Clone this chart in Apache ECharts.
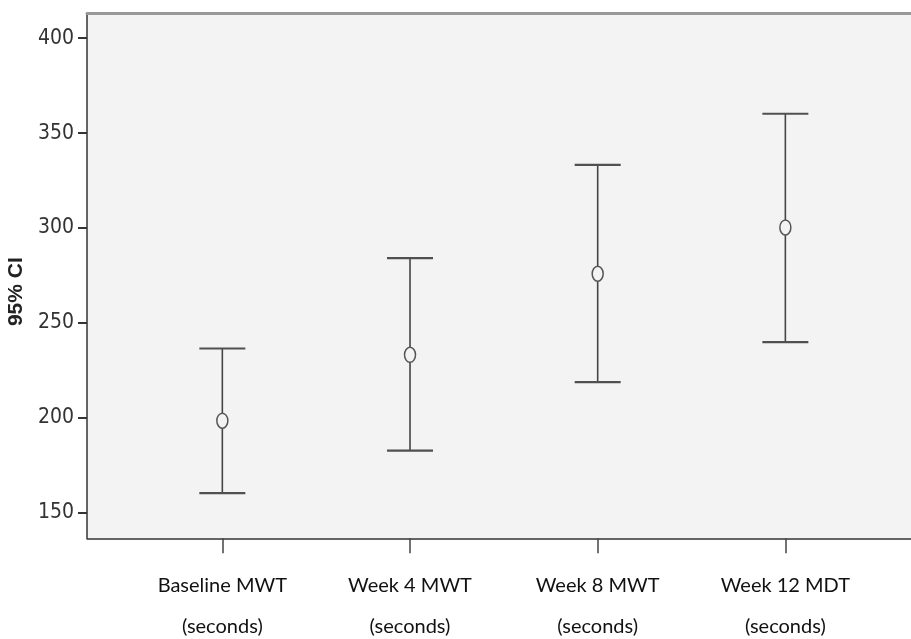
<!DOCTYPE html>
<html>
<head>
<meta charset="utf-8">
<script src="https://cdn.jsdelivr.net/npm/echarts@6/dist/echarts.min.js"></script>
<style>
  html, body { margin: 0; padding: 0; background: #ffffff; }
  #chart { width: 911px; height: 639px; }
</style>
</head>
<body>
<div id="chart"></div>
<script>
// Measurements and their 95% confidence intervals
const categories = [
  'Baseline MWT\n(seconds)',
  'Week 4 MWT\n(seconds)',
  'Week 8 MWT\n(seconds)',
  'Week 12 MDT\n(seconds)'
];
const means = [198.5, 233.2, 275.9, 300.3];
const lowerCI = [160.3, 182.7, 218.8, 239.9];
const upperCI = [236.5, 284.1, 333.3, 360.2];
const yTicks = [150, 200, 250, 300, 350, 400];

const Y_MIN = 136.5;
const Y_MAX = 413.3;

const rows = categories.map((c, i) => [i, means[i], lowerCI[i], upperCI[i]]);

const chart = echarts.init(document.getElementById('chart'), null, { renderer: 'canvas' });

const labelFont = "'Liberation Sans Narrow', 'DejaVu Sans Condensed', 'Liberation Sans', sans-serif";

function renderCI(params, api) {
  const i = api.value(0);
  const top = api.coord([i, api.value(3)]);
  const mid = api.coord([i, api.value(1)]);
  const bot = api.coord([i, api.value(2)]);
  const capHalf = 23;
  const rx = 5.5, ry = 7.5;
  return {
    type: 'group',
    children: [
      { type: 'line', shape: { x1: top[0], y1: top[1], x2: bot[0], y2: bot[1] },
        style: { stroke: '#444444', lineWidth: 1.6 } },
      { type: 'line', shape: { x1: top[0] - capHalf, y1: top[1], x2: top[0] + capHalf, y2: top[1] },
        style: { stroke: '#505050', lineWidth: 2.2 } },
      { type: 'line', shape: { x1: bot[0] - capHalf, y1: bot[1], x2: bot[0] + capHalf, y2: bot[1] },
        style: { stroke: '#505050', lineWidth: 2.2 } },
      { type: 'ellipse', shape: { cx: mid[0], cy: mid[1], rx: rx, ry: ry },
        style: { fill: '#f3f3f3', stroke: '#555555', lineWidth: 1.5 } }
    ]
  };
}

const option = {
  animation: false,
  grid: [
    { left: 87, right: 0, top: 13, bottom: 100.7, show: true, containLabel: false,
      outerBoundsMode: 'none', backgroundColor: '#f3f3f3', borderWidth: 0 },
    { left: 128.5, right: 31.8, top: 13, bottom: 100.7, containLabel: false,
      outerBoundsMode: 'none' }
  ],
  xAxis: [
    { type: 'category', gridIndex: 0, data: categories, position: 'bottom',
      axisLine: { show: true, lineStyle: { color: '#333333', width: 1.5 } },
      axisTick: { show: false }, axisLabel: { show: false }, splitLine: { show: false } },
    { type: 'category', gridIndex: 0, data: categories, position: 'top',
      axisLine: { show: true, lineStyle: { color: '#999999', width: 3 } },
      axisTick: { show: false }, axisLabel: { show: false }, splitLine: { show: false } },
    { type: 'category', gridIndex: 1, data: categories, position: 'bottom',
      axisLine: { show: false },
      axisTick: { show: true, alignWithLabel: true, length: 15,
        lineStyle: { color: '#444444', width: 1.5 } },
      axisLabel: { show: true, interval: 0, margin: 26.5, lineHeight: 41,
        fontFamily: 'Lato, "Noto Sans", sans-serif', fontSize: 20, color: '#111111' },
      splitLine: { show: false } }
  ],
  yAxis: [
    { type: 'value', gridIndex: 0, min: Y_MIN, max: Y_MAX,
      name: '95% CI', nameLocation: 'middle', nameGap: 56, nameRotate: 90,
      nameTextStyle: { fontFamily: "'Liberation Sans', Arial, sans-serif", fontWeight: 'bold',
        fontSize: 21, color: '#222222', padding: [0, 32, 0, 0] },
      axisLine: { show: true, lineStyle: { color: '#333333', width: 1.5 } },
      axisTick: { show: true, length: 9, customValues: yTicks,
        lineStyle: { color: '#333333', width: 2 } },
      axisLabel: { show: true, margin: 13, customValues: yTicks,
        fontFamily: labelFont, fontSize: 21, color: '#333333' },
      splitLine: { show: false } },
    { type: 'value', gridIndex: 1, min: Y_MIN, max: Y_MAX, show: false }
  ],
  series: [
    { type: 'custom', xAxisIndex: 2, yAxisIndex: 1, data: rows,
      encode: { x: 0, y: [1, 2, 3] }, renderItem: renderCI, clip: false, silent: true }
  ]
};

chart.setOption(option);
</script>
</body>
</html>
